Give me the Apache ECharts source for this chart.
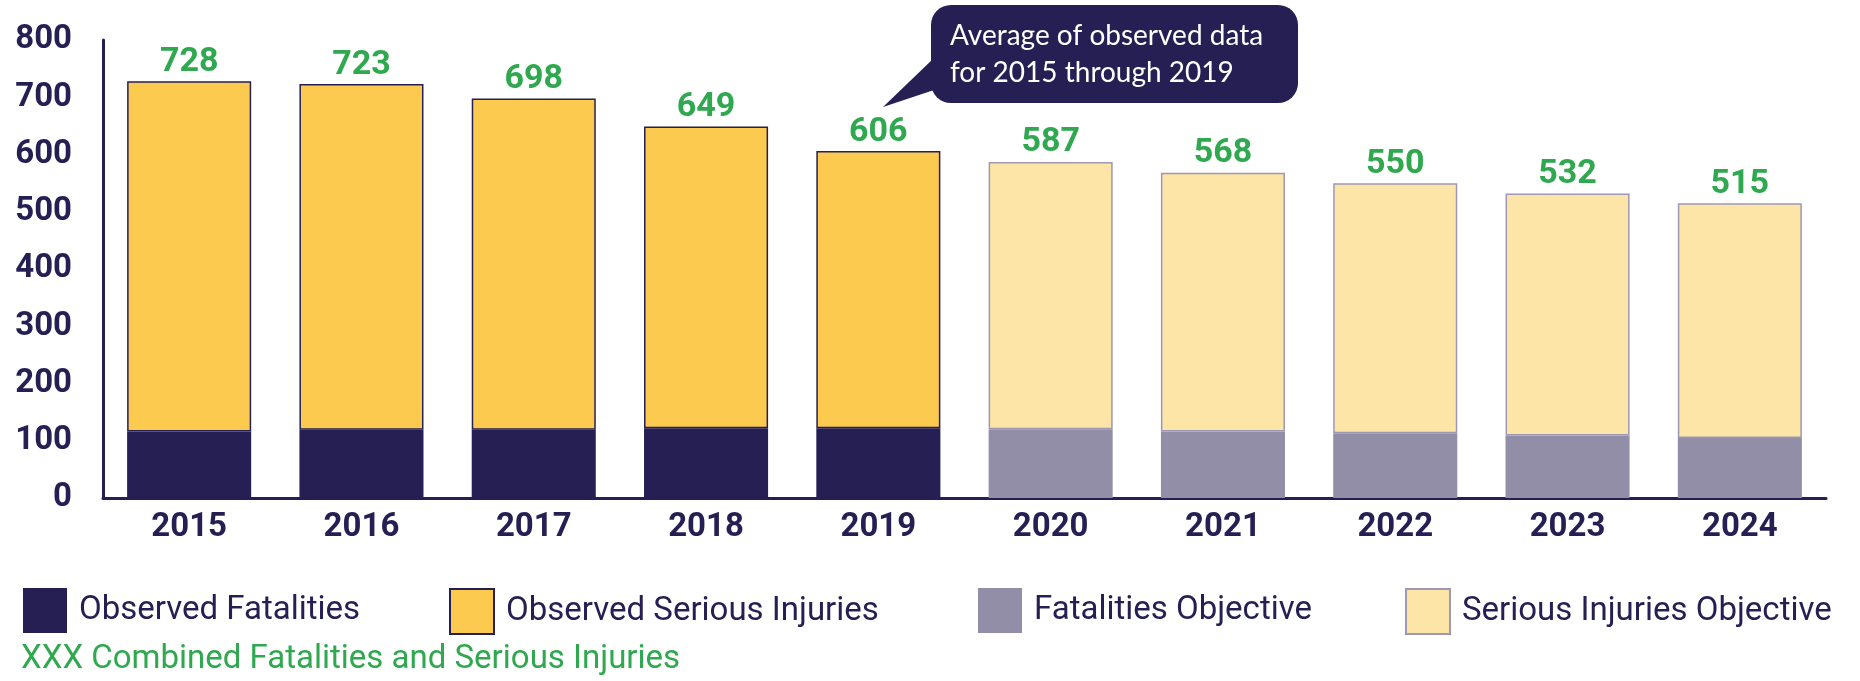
<!DOCTYPE html>
<html>
<head>
<meta charset="utf-8">
<script src="https://cdn.jsdelivr.net/npm/echarts@6/dist/echarts.min.js"></script>
<style>
  html, body { margin: 0; padding: 0; background: #fff; }
  #chart { width: 1860px; height: 681px; }
</style>
</head>
<body>
<div id="chart"></div>
<script>
// 数据
const years = ['2015', '2016', '2017', '2018', '2019', '2020', '2021', '2022', '2023', '2024'];
const observedFatalities = [116, 119, 119, 122, 122, null, null, null, null, null];
const observedSerious = [612, 604, 579, 527, 484, null, null, null, null, null];
const objectiveFatalities = [null, null, null, null, null, 120, 116, 113, 109, 105];
const objectiveSerious = [null, null, null, null, null, 467, 452, 437, 423, 410];
const combinedTotals = [728, 723, 698, 649, 606, 587, 568, 550, 532, 515];
const yTicks = [0, 100, 200, 300, 400, 500, 600, 700, 800];

// 颜色
const colors = {
    navy: '#251f54',
    yellow: '#fdca50',
    grey: '#928ea8',
    lightYellow: '#fde5a7',
    green: '#2fa84f'
};
const narrow = 'Roboto, "Liberation Sans", sans-serif';

const chart = echarts.init(document.getElementById('chart'));

// 合计标签
const totalLabel = {
    show: true,
    position: 'top',
    distance: 2,
    color: colors.green,
    fontFamily: narrow,
    fontWeight: 'bold',
    fontSize: 34,
    formatter: p => combinedTotals[p.dataIndex]
};

function legendAt(left, name) {
    return {
        left: left,
        top: 583,
        itemWidth: 44,
        itemHeight: 45,
        icon: 'rect',
        data: [name],
        selectedMode: false,
        textStyle: {
            color: colors.navy,
            fontFamily: narrow,
            fontSize: 33,
            padding: [0, 0, 0, 7]
        }
    };
}

const option = {
    animation: false,
    title: {
        text: 'XXX Combined Fatalities and Serious Injuries',
        left: 16,
        top: 638,
        textStyle: {
            color: colors.green,
            fontFamily: narrow,
            fontWeight: 'normal',
            fontSize: 33
        }
    },
    legend: [
        legendAt(18, 'Observed Fatalities'),
        legendAt(444, 'Observed Serious Injuries'),
        legendAt(973, 'Fatalities Objective'),
        legendAt(1400, 'Serious Injuries Objective')
    ],
    grid: { left: 103, right: 34, top: 40, bottom: 183 },
    xAxis: {
        type: 'category',
        data: years,
        axisLine: { lineStyle: { color: colors.navy, width: 3 } },
        axisTick: { show: false },
        axisLabel: {
            color: colors.navy,
            fontFamily: narrow,
            fontWeight: 'bold',
            fontSize: 33,
            margin: 13
        }
    },
    yAxis: {
        type: 'value',
        min: yTicks[0],
        max: yTicks[yTicks.length - 1],
        interval: 100,
        axisLine: { show: true, lineStyle: { color: colors.navy, width: 3 } },
        axisTick: { show: false },
        splitLine: { show: false },
        axisLabel: {
            color: colors.navy,
            fontFamily: narrow,
            fontWeight: 'bold',
            fontSize: 33,
            margin: 31,
            padding: [6, 0, 0, 0]
        }
    },
    series: [
        {
            name: 'Observed Fatalities',
            type: 'bar',
            stack: 'total',
            barWidth: '72%',
            data: observedFatalities,
            itemStyle: { color: colors.navy }
        },
        {
            name: 'Observed Serious Injuries',
            type: 'bar',
            stack: 'total',
            data: observedSerious,
            itemStyle: { color: colors.yellow, borderColor: colors.navy, borderWidth: 1.5 },
            label: totalLabel
        },
        {
            name: 'Fatalities Objective',
            type: 'bar',
            stack: 'total',
            data: objectiveFatalities,
            itemStyle: { color: colors.grey }
        },
        {
            name: 'Serious Injuries Objective',
            type: 'bar',
            stack: 'total',
            data: objectiveSerious,
            itemStyle: { color: colors.lightYellow, borderColor: '#9d98b5', borderWidth: 1.5 },
            label: totalLabel
        }
    ],
    // 注释气泡
    graphic: [
        {
            type: 'group',
            silent: true,
            children: [
                {
                    type: 'polygon',
                    shape: { points: [[934, 58], [883, 107], [934, 90]] },
                    style: { fill: colors.navy }
                },
                {
                    type: 'rect',
                    shape: { x: 931, y: 5, width: 367, height: 98, r: 20 },
                    style: { fill: colors.navy }
                },
                {
                    type: 'text',
                    x: 950,
                    y: 17,
                    style: {
                        text: 'Average of observed data\nfor 2015 through 2019',
                        fill: '#ffffff',
                        font: '28px Lato, "Open Sans", sans-serif',
                        lineHeight: 37
                    }
                }
            ]
        }
    ]
};

chart.setOption(option);
</script>
</body>
</html>
